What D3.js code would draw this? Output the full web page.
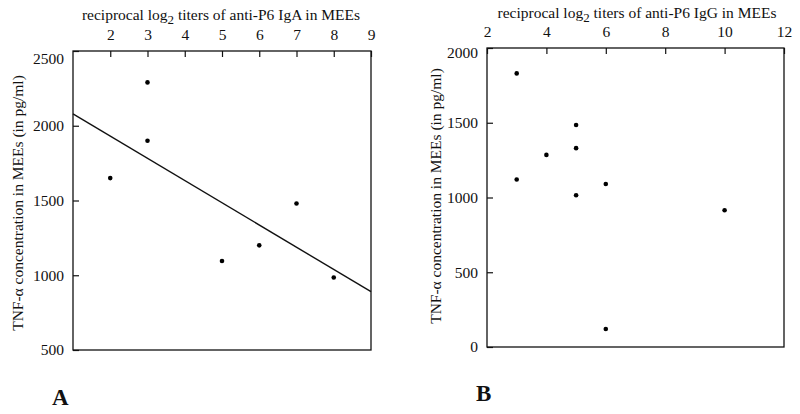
<!DOCTYPE html>
<meta charset="utf-8">
<style>
    body { margin: 0; background: #fff; }
    svg text { font-family: 'Liberation Serif', 'Times New Roman', serif; fill: #111; }
    .frame { fill: none; stroke: #111; stroke-width: 1.3; }
    .axis path { display: none; }
    .axis line { stroke: #111; stroke-width: 1.2; }
    .axis text { font-size: 15.5px; }
    .dot { fill: #000; }
    .fit { stroke: #111; stroke-width: 1.4; fill: none; }
</style>
<body>
<svg id="chart" width="800" height="414"></svg>
<script src="https://cdn.jsdelivr.net/npm/d3@7"></script>
<script>

    // panel A: IgA titers vs TNF-alpha
    var igaX = [2, 3, 3, 5, 6, 7, 8];
    var igaY = [1650, 2290, 1900, 1095, 1200, 1480, 985];
    var igaXTicks = [2, 3, 4, 5, 6, 7, 8, 9];
    var igaYTicks = [500, 1000, 1500, 2000, 2500];
    // regression line end points
    var igaFitX = [1, 9];
    var igaFitY = [2080, 890];

    // panel B: IgG titers vs TNF-alpha
    var iggX = [3, 5, 4, 5, 3, 5, 6, 10, 6];
    var iggY = [1830, 1485, 1285, 1330, 1120, 1015, 1090, 915, 120];
    var iggXTicks = [2, 4, 6, 8, 10, 12];
    var iggYTicks = [0, 500, 1000, 1500, 2000];

    var svg = d3.select("#chart");
    var fmt = d3.format("d");

    function panel(opt) {
        var x = d3.scaleLinear().domain(opt.xDomain).range([opt.left, opt.right]);
        var y = d3.scaleLinear().domain(opt.yDomain).range([opt.bottom, opt.top]);
        var g = svg.append("g");

        g.append("rect")
            .attr("class", "frame")
            .attr("x", opt.left)
            .attr("y", opt.top)
            .attr("width", opt.right - opt.left)
            .attr("height", opt.bottom - opt.top);

        // top axis, ticks pointing into the box
        g.append("g")
            .attr("class", "axis")
            .attr("transform", "translate(0," + opt.top + ")")
            .call(d3.axisTop(x).tickValues(opt.xTicks).tickFormat(fmt)
                .tickSizeInner(-6).tickPadding(11));

        // left axis, ticks pointing inward too
        var ya = g.append("g")
            .attr("class", "axis")
            .attr("transform", "translate(" + opt.left + ",0)")
            .call(d3.axisLeft(y).tickValues(opt.yTicks).tickFormat(fmt)
                .tickSizeInner(-6).tickPadding(9));
        // top label sits a bit lower in the original
        ya.selectAll(".tick text")
            .filter(function (d) { return d == opt.yDomain[1]; })
            .attr("dy", opt.topLabelDy);

        // titles
        var t = g.append("text")
            .attr("x", opt.titleX)
            .attr("y", opt.titleY)
            .attr("text-anchor", "middle")
            .style("font-size", "15.5px");
        t.append("tspan").text("reciprocal log");
        t.append("tspan").attr("dy", 4).style("font-size", "13px").text("2");
        t.append("tspan").attr("dy", -4).text(" titers of anti-P6 " + opt.ig + " in MEEs");

        g.append("text")
            .attr("transform", "translate(" + opt.yTitleX + "," + opt.yTitleY + ") rotate(-90)")
            .attr("text-anchor", "middle")
            .style("font-size", "15.5px")
            .text("TNF-\u03b1 concentration in MEEs (in pg/ml)");

        g.append("text")
            .attr("x", opt.letterX)
            .attr("y", opt.letterY)
            .style("font-size", "23px")
            .style("font-weight", "bold")
            .text(opt.letter);

        g.selectAll("circle")
            .data(opt.xs)
            .enter().append("circle")
            .attr("class", "dot")
            .attr("cx", function (d) { return x(d); })
            .attr("cy", function (d, i) { return y(opt.ys[i]); })
            .attr("r", 2.3);

        if (opt.fitX) {
            g.append("path")
                .attr("class", "fit")
                .attr("d", d3.line()
                    .x(function (d) { return x(d); })
                    .y(function (d, i) { return y(opt.fitY[i]); })(opt.fitX));
        }
    }

    panel({
        xs: igaX, ys: igaY, xTicks: igaXTicks, yTicks: igaYTicks,
        xDomain: [1, 9], yDomain: [500, 2500],
        left: 73, right: 371, top: 51, bottom: 350,
        fitX: igaFitX, fitY: igaFitY,
        ig: "IgA", titleX: 221, titleY: 20, yTitleX: 23, yTitleY: 203, topLabelDy: "0.8em",
        letter: "A", letterX: 52, letterY: 405
    });

    panel({
        xs: iggX, ys: iggY, xTicks: iggXTicks, yTicks: iggYTicks,
        xDomain: [2, 12], yDomain: [0, 2000],
        left: 487, right: 784, top: 48, bottom: 347,
        ig: "IgG", titleX: 637, titleY: 18, yTitleX: 441, yTitleY: 196, topLabelDy: "0.6em",
        letter: "B", letterX: 476, letterY: 401
    });
</script>
</body>
